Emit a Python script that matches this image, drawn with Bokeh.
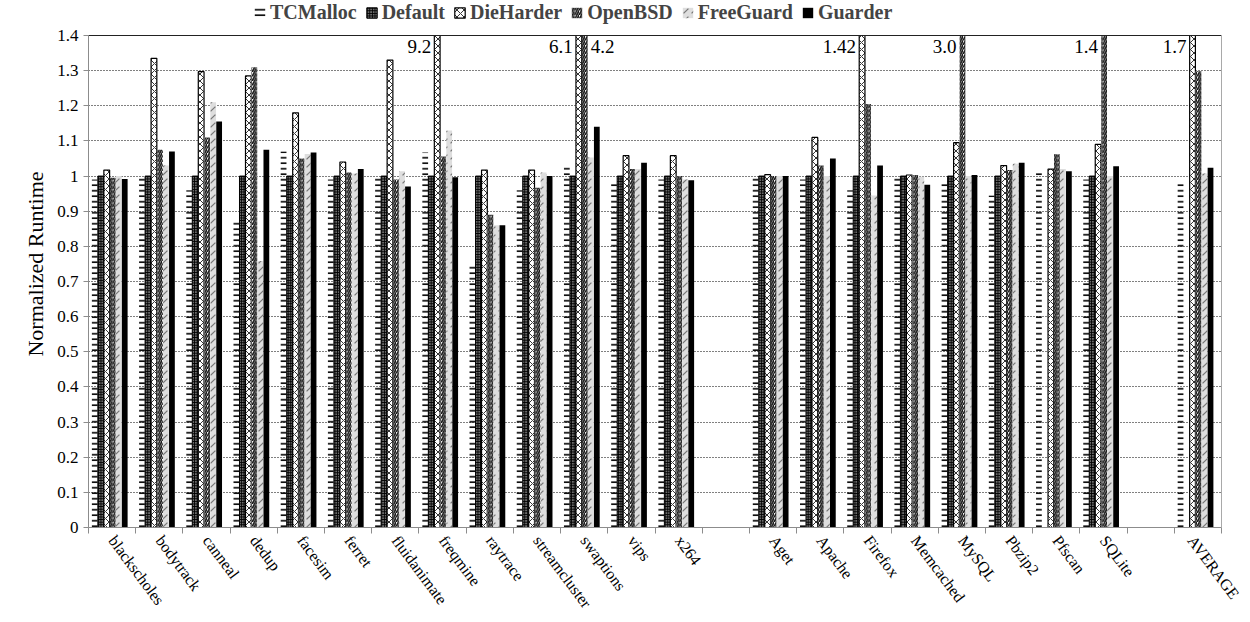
import math
from bokeh.plotting import figure
from bokeh.models import (ColumnDataSource, FixedTicker, CustomJSTickFormatter,
                          Legend, LegendItem, Range1d, Span)
from bokeh.embed import file_html
from bokeh.resources import INLINE
from bokeh.core.properties import value

# ---------------- data ----------------
parsec = ["blackscholes", "bodytrack", "canneal", "dedup", "facesim", "ferret",
          "fluidanimate", "freqmine", "raytrace", "streamcluster", "swaptions",
          "vips", "x264"]
apps = ["Aget", "Apache", "Firefox", "Memcached", "MySQL", "Pbzip2", "Pfscan", "SQLite"]
summary = ["AVERAGE"]

series = ["TCMalloc", "Default", "DieHarder", "OpenBSD", "FreeGuard", "Guarder"]

NA = float("nan")
tcmalloc = [0.99, 1.0, 0.96, 0.87, 1.07, 0.99, 1.0, 1.067, 0.75, 0.96, 1.03, 0.985, 0.99,
            0.995, 0.99, 0.96, 0.996, 0.98, 0.945, 1.01, 0.99,
            0.98]
default = [1.0, 1.0, 1.0, 1.0, 1.0, 1.0, 1.0, 1.0, 1.0, 1.0, 1.0, 1.0, 1.0,
           1.0, 1.0, 1.0, 1.0, 1.0, 1.0, NA, 1.0,
           NA]
dieharder = [1.017, 1.335, 1.297, 1.285, 1.18, 1.04, 1.33, 9.2, 1.017, 1.017, 6.1, 1.058, 1.058,
             1.004, 1.11, 1.42, 1.003, 1.095, 1.03, 1.02, 1.09,
             1.7]
openbsd = [0.995, 1.075, 1.11, 1.31, 1.05, 1.01, 0.99, 1.056, 0.89, 0.967, 4.2, 1.02, 1.0,
           1.0, 1.03, 1.205, 1.003, 3.0, 1.017, 1.062, 1.44,
           1.298]
freeguard = [1.0, 1.03, 1.21, 0.758, 1.063, 1.007, 1.014, 1.13, 0.86, 1.01, 1.053, 1.02, 0.99,
             1.0, 1.0, 0.945, 0.998, 1.0, 1.035, 1.02, 1.0,
             1.007]
guarder = [0.992, 1.07, 1.155, 1.075, 1.067, 1.02, 0.97, 0.997, 0.86, 1.0, 1.14, 1.038, 0.988,
           1.0, 1.05, 1.03, 0.975, 1.003, 1.038, 1.014, 1.028,
           1.024]

# labels for bars that run off the top of the chart
ann_category = ["freqmine", "swaptions", "swaptions", "Firefox", "MySQL", "SQLite", "AVERAGE"]
ann_series = ["DieHarder", "DieHarder", "OpenBSD", "DieHarder", "OpenBSD", "OpenBSD", "DieHarder"]
ann_text = ["9.2", "6.1", "4.2", "1.42", "3.0", "1.4", "1.7"]
ann_side = ["left", "left", "right", "left", "left", "left", "left"]

y_ticks = [0, 0.1, 0.2, 0.3, 0.4, 0.5, 0.6, 0.7, 0.8, 0.9, 1.0, 1.1, 1.2, 1.3, 1.4]
Y_MAX = 1.4

# ---------------- layout of slots ----------------
groups = [parsec, apps, summary]
cats, centers, slot_names = [], [], []
s = 0
for gi, g in enumerate(groups):
    for c in g:
        cats.append(c)
        centers.append(s + 0.5)
        slot_names.append(c)
        s += 1
    if gi < len(groups) - 1:
        slot_names.append("")
        s += 1
n_slots = s

values = {"TCMalloc": tcmalloc, "Default": default, "DieHarder": dieharder,
          "OpenBSD": openbsd, "FreeGuard": freeguard, "Guarder": guarder}

BW = 0.127
SHIFT = -0.05
FONT = "Liberation Serif"
PLOT_H = 492          # pixel height of the 0..1.4 area
TOP_PAD = 35          # room above 1.4 for the legend
FRAME_H = PLOT_H + TOP_PAD
Y_END = Y_MAX * FRAME_H / PLOT_H

p = figure(output_backend="svg", toolbar_location=None,
           x_range=Range1d(0, n_slots), y_range=Range1d(0, Y_END),
           frame_width=1133, frame_height=FRAME_H,
           min_border_left=88, min_border_right=21, min_border_top=0,
           min_border_bottom=60)
p.background_fill_color = "white"
p.border_fill_color = "white"
p.outline_line_color = None

styles = {
    "TCMalloc": dict(fill_alpha=0, line_alpha=0, hatch_pattern="horizontal_line",
                     hatch_color="black", hatch_scale=5.5, hatch_weight=1.6),
    "Default": dict(fill_color="#6a6a6a", line_color="black", line_width=1,
                    hatch_pattern="cross", hatch_color="black", hatch_scale=2.6,
                    hatch_weight=1.0),
    "DieHarder": dict(fill_color="white", line_color="black", line_width=1.2,
                      hatch_pattern="diagonal_cross", hatch_color="black",
                      hatch_scale=7, hatch_weight=0.8),
    "OpenBSD": dict(fill_color="white", line_alpha=0, hatch_pattern="right_diagonal_line",
                    hatch_color="#111111", hatch_scale=4.5, hatch_weight=1.6),
    "FreeGuard": dict(fill_color="#dedede", line_alpha=0, hatch_pattern="right_diagonal_dash",
                      hatch_color="#777777", hatch_scale=8, hatch_weight=1.2),
    "Guarder": dict(fill_color="black", line_alpha=0),
}

renderers = {}
for i, name in enumerate(series):
    xs = [c + SHIFT + (i - 2.5) * BW for c in centers]
    tops = [min(v, Y_MAX) if v == v else v for v in values[name]]   # chart is cut at 1.4
    src = ColumnDataSource(dict(x=xs, top=tops, value=values[name]))
    r = p.vbar(x="x", top="top", bottom=0, width=BW * 0.96, source=src, **styles[name])
    renderers[name] = r

# frame lines: top at 1.4 and right edge
p.add_layout(Span(location=Y_MAX, dimension="width", line_color="#222222", line_width=1.2))
p.segment(x0=[n_slots], y0=[0], x1=[n_slots], y1=[Y_MAX], line_color="#555555", line_width=1)

# off-chart value labels
ax, ay, at, aal, aoff = [], [], [], [], []
for c, sname, t, side in zip(ann_category, ann_series, ann_text, ann_side):
    ci = cats.index(c)
    si = series.index(sname)
    xb = centers[ci] + SHIFT + (si - 2.5) * BW
    if side == "left":
        ax.append(xb - BW / 2)
        aal.append("right")
        aoff.append(-3)
    else:
        ax.append(xb + BW / 2)
        aal.append("left")
        aoff.append(3)
    ay.append(Y_MAX)
    at.append(t)
asrc = ColumnDataSource(dict(x=ax, y=ay, text=at, align=aal, off=aoff))
p.text(x="x", y="y", text="text", source=asrc, text_align="align", x_offset="off",
       y_offset=11, text_baseline="middle", text_font=value(FONT),
       text_font_size="19px", text_color="black")

# axes
p.yaxis.ticker = FixedTicker(ticks=y_ticks)
p.yaxis.bounds = (0, Y_MAX)
p.yaxis.formatter = CustomJSTickFormatter(code="return String(Math.round(tick*10)/10);")
p.yaxis.axis_label = "Normalized Runtime"
p.yaxis.axis_label_text_font = FONT
p.yaxis.axis_label_text_font_style = "normal"
p.yaxis.axis_label_text_font_size = "22px"
p.yaxis.axis_label_text_color = "black"
p.yaxis.axis_label_standoff = 6
p.yaxis.major_label_text_font = FONT
p.yaxis.major_label_text_font_size = "17px"
p.yaxis.major_label_text_color = "black"
p.yaxis.major_tick_out = 5
p.yaxis.major_tick_in = 0
p.yaxis.minor_tick_line_color = None
p.yaxis.axis_line_color = "#8c8c8c"
p.yaxis.major_tick_line_color = "#8c8c8c"

p.xaxis.ticker = FixedTicker(ticks=centers, minor_ticks=list(range(n_slots + 1)))
p.xaxis.formatter = CustomJSTickFormatter(args=dict(names=slot_names),
                                          code="return names[Math.floor(tick)] || '';")
p.xaxis.major_label_orientation = -0.93
p.xaxis.major_label_text_font = FONT
p.xaxis.major_label_text_font_size = "16px"
p.xaxis.major_label_text_color = "black"
p.xaxis.major_tick_line_color = None
p.xaxis.major_tick_out = 0
p.xaxis.major_tick_in = 0
p.xaxis.minor_tick_line_color = "#8c8c8c"
p.xaxis.minor_tick_out = 6
p.xaxis.minor_tick_in = 0
p.xaxis.axis_line_color = "#8c8c8c"
p.xaxis.major_label_standoff = 4

p.xgrid.grid_line_color = None
p.ygrid.ticker = FixedTicker(ticks=y_ticks[1:-1])
p.ygrid.grid_line_color = "black"
p.ygrid.grid_line_dash = "1 2"
p.ygrid.grid_line_width = 1

legend = Legend(items=[LegendItem(label=n, renderers=[renderers[n]]) for n in series],
                orientation="horizontal", location=(165, FRAME_H - 24))
legend.label_text_font = FONT
legend.label_text_font_style = "bold"
legend.label_text_font_size = "20px"
legend.label_height = 18
legend.glyph_width = 13
legend.glyph_height = 13
legend.label_standoff = 4
legend.spacing = 8
legend.padding = 0
legend.margin = 0
legend.border_line_color = None
legend.background_fill_alpha = 0
p.add_layout(legend)

open("out.html", "w").write(file_html(p, INLINE))
